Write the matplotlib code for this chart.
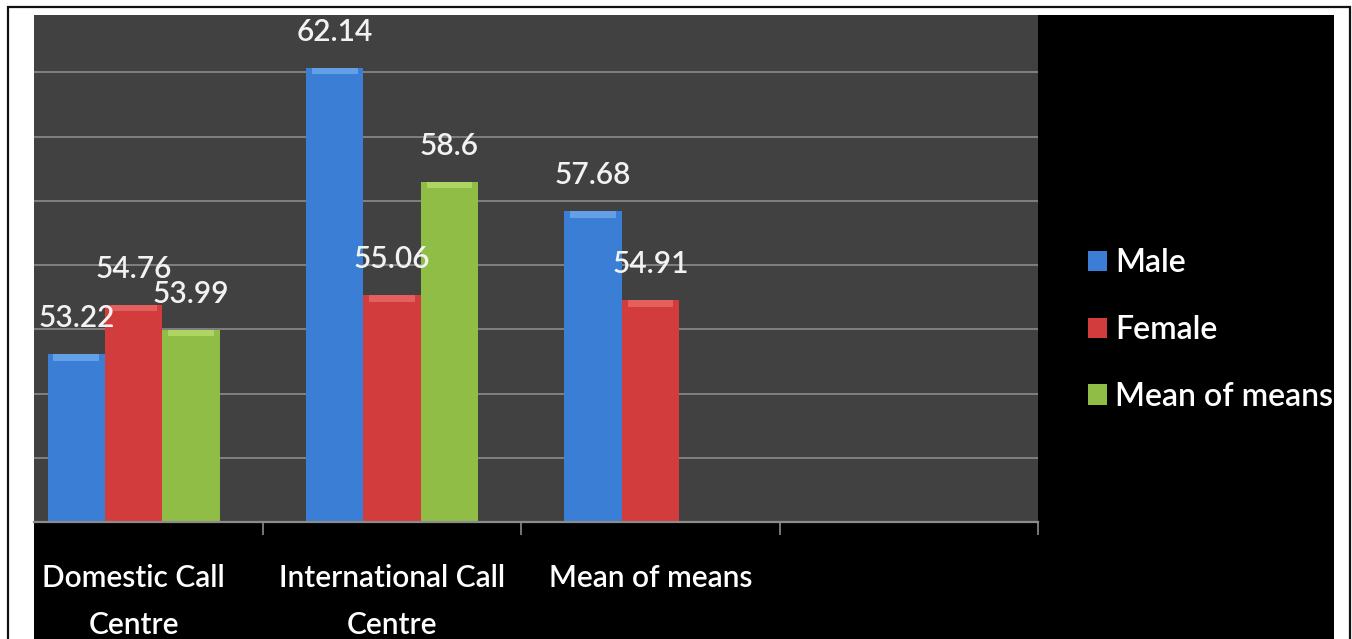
import numpy as np
import matplotlib
matplotlib.use("Agg")
import matplotlib.pyplot as plt
from matplotlib.patches import Rectangle, Patch

plt.rcParams['font.family'] = ['Lato', 'DejaVu Sans']
plt.rcParams['font.weight'] = 'semibold'

# ---- data ----
categories = ["Domestic Call\nCentre", "International Call\nCentre", "Mean of means", ""]
series_names = ["Male", "Female", "Mean of means"]
male = [53.22, 62.14, 57.68, np.nan]
female = [54.76, 55.06, 54.91, np.nan]
mean_of_means = [53.99, 58.6, np.nan, np.nan]
y_min, y_max = 48, 63.79
y_grid = [50, 52, 54, 56, 58, 60, 62]

colors = ["#3A7FD5", "#D23C3C", "#8FBD45"]
highlights = ["#6FA9EE", "#E86A68", "#B6DA6A"]

W, H = 1352, 639
fig = plt.figure(figsize=(W / 100, H / 100), dpi=100, facecolor="white")

# black chart background
fig.add_artist(Rectangle((34 / W, -0.05), 1300 / W, 1.05 - 15 / H,
                         transform=fig.transFigure, facecolor="black",
                         edgecolor="none", zorder=0))
# outer frame
fig.add_artist(Rectangle((8 / W, -0.05), (1350 - 8) / W, 1.05 - 7 / H,
                         transform=fig.transFigure, facecolor="none",
                         edgecolor="#111111", linewidth=1.6, zorder=0.5))

ax = fig.add_axes([34 / W, (H - 522) / H, (1038 - 34) / W, (522 - 15) / H])
ax.set_facecolor("#414141")

x = np.arange(len(categories))
bw = 0.222
offsets = [-bw, 0, bw]
all_series = [male, female, mean_of_means]

for s, (vals, off) in enumerate(zip(all_series, offsets)):
    vals = np.array(vals, dtype=float)
    ax.bar(x + off, vals - y_min, width=bw, bottom=y_min, color=colors[s],
           edgecolor="none", zorder=3, label=series_names[s])
    # bevel highlight at the top of each bar
    ax.bar(x + off, np.full_like(vals, 0.2), width=bw * 0.8,
           bottom=vals - 0.2, color=highlights[s], edgecolor="none",
           zorder=4, alpha=0.8)
    for xi, v in zip(x + off, vals):
        if np.isnan(v):
            continue
        ax.annotate(f"{v:g}", (xi, v), xytext=(0, 26), textcoords="offset points",
                    ha="center", va="center", color="#f2f2f2", fontsize=21.5,
                    zorder=6, annotation_clip=False)

ax.set_ylim(y_min, y_max)
ax.set_xlim(-0.386, 3.5)
ax.set_yticks(y_grid)
ax.yaxis.grid(True, color="#858585", linewidth=1.3, zorder=1)
ax.set_axisbelow(True)
ax.tick_params(axis="y", length=0, labelleft=False)

for sp in ["top", "right", "left"]:
    ax.spines[sp].set_visible(False)
ax.spines["bottom"].set_color("#8c8c8c")
ax.spines["bottom"].set_linewidth(1.6)
ax.spines["bottom"].set_zorder(5)

ax.set_xticks(x)
ax.set_xticklabels(categories, color="white", fontsize=21.5, linespacing=1.85)
ax.tick_params(axis="x", length=0, pad=30)
ax.set_xticks(np.arange(0.5, len(categories), 1.0), minor=True)
ax.tick_params(axis="x", which="minor", length=9, width=1.2, color="#8c8c8c",
               direction="out")

handles = [Patch(facecolor=c, edgecolor="none") for c in colors]
fig.legend(handles, series_names, loc="center left",
           bbox_to_anchor=(1088 / W, 1 - 330 / H), frameon=False,
           fontsize=23, labelcolor="white", handlelength=0.6, handleheight=0.6,
           handletextpad=0.25, labelspacing=1.15, borderpad=0, borderaxespad=0)

fig.savefig("out.png", dpi=100, facecolor="white")
